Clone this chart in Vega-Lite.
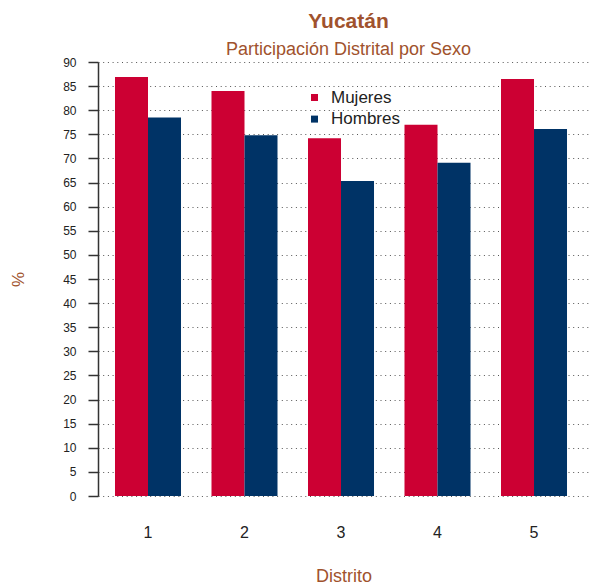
{
  "$schema": "https://vega.github.io/schema/vega-lite/v6.json",
  "width": 491,
  "height": 434,
  "autosize": {"type": "none"},
  "padding": {"left": 98, "top": 62, "right": 0, "bottom": 92},
  "background": "white",
  "title": {
    "text": "Yucatán",
    "subtitle": "Participación Distrital por Sexo",
    "anchor": "middle",
    "dx": 5,
    "font": "Liberation Sans",
    "fontSize": 21,
    "fontWeight": "bold",
    "color": "#A0522D",
    "subtitleFont": "Liberation Sans",
    "subtitleFontSize": 18,
    "subtitleColor": "#A0522D",
    "subtitlePadding": 9,
    "offset": -3
  },
  "data": {
    "values": [
      {"Distrito": "1", "Sexo": "Mujeres", "Valor": 86.9},
      {"Distrito": "1", "Sexo": "Hombres", "Valor": 78.5},
      {"Distrito": "2", "Sexo": "Mujeres", "Valor": 84.0},
      {"Distrito": "2", "Sexo": "Hombres", "Valor": 74.8},
      {"Distrito": "3", "Sexo": "Mujeres", "Valor": 74.2},
      {"Distrito": "3", "Sexo": "Hombres", "Valor": 65.3},
      {"Distrito": "4", "Sexo": "Mujeres", "Valor": 77.0},
      {"Distrito": "4", "Sexo": "Hombres", "Valor": 69.1},
      {"Distrito": "5", "Sexo": "Mujeres", "Valor": 86.5},
      {"Distrito": "5", "Sexo": "Hombres", "Valor": 76.1}
    ]
  },
  "mark": {"type": "bar"},
  "encoding": {
    "x": {
      "field": "Distrito",
      "type": "nominal",
      "scale": {"paddingInner": 0.316, "paddingOuter": 0.202, "align": 0.436},
      "axis": {
        "title": "Distrito",
        "titleFont": "Liberation Sans",
        "titleFontSize": 18,
        "titleFontWeight": "normal",
        "titleColor": "#A0522D",
        "titleBaseline": "middle",
        "titleY": 80,
        "labelAngle": 0,
        "labelFont": "Liberation Sans",
        "labelFontSize": 16,
        "labelColor": "#222222",
        "labelPadding": 28,
        "ticks": false,
        "domain": false,
        "grid": false
      }
    },
    "xOffset": {
      "field": "Sexo",
      "type": "nominal",
      "scale": {"domain": ["Mujeres", "Hombres"], "paddingInner": 0, "paddingOuter": 0}
    },
    "y": {
      "field": "Valor",
      "type": "quantitative",
      "scale": {"domain": [0, 90], "nice": false},
      "axis": {
        "title": "%",
        "titleFont": "Liberation Sans",
        "titleFontSize": 17,
        "titleFontWeight": "normal",
        "titleColor": "#A0522D",
        "titleX": -80,
        "titleY": 217,
        "titleAlign": "center",
        "titleBaseline": "middle",
        "values": [0, 5, 10, 15, 20, 25, 30, 35, 40, 45, 50, 55, 60, 65, 70, 75, 80, 85, 90],
        "labelFont": "Liberation Sans",
        "labelFontSize": 12,
        "labelColor": "#222222",
        "labelPadding": 12,
        "tickSize": 10,
        "tickColor": "#333333",
        "tickWidth": 1.5,
        "domainColor": "#333333",
        "domainWidth": 1.5,
        "grid": true,
        "gridDash": [1, 3.7],
        "gridColor": "#555555",
        "gridWidth": 1
      }
    },
    "color": {
      "field": "Sexo",
      "type": "nominal",
      "scale": {"domain": ["Mujeres", "Hombres"], "range": ["#CC0033", "#003366"]},
      "legend": {
        "title": null,
        "orient": "none",
        "legendX": 208,
        "legendY": 27,
        "padding": 0,
        "symbolType": "square",
        "symbolSize": 49,
        "symbolStrokeWidth": 0,
        "labelFont": "Liberation Sans",
        "labelFontSize": 17,
        "labelColor": "#222222",
        "labelOffset": 8,
        "rowPadding": 3.6
      }
    }
  },
  "config": {
    "view": {"stroke": null}
  }
}
